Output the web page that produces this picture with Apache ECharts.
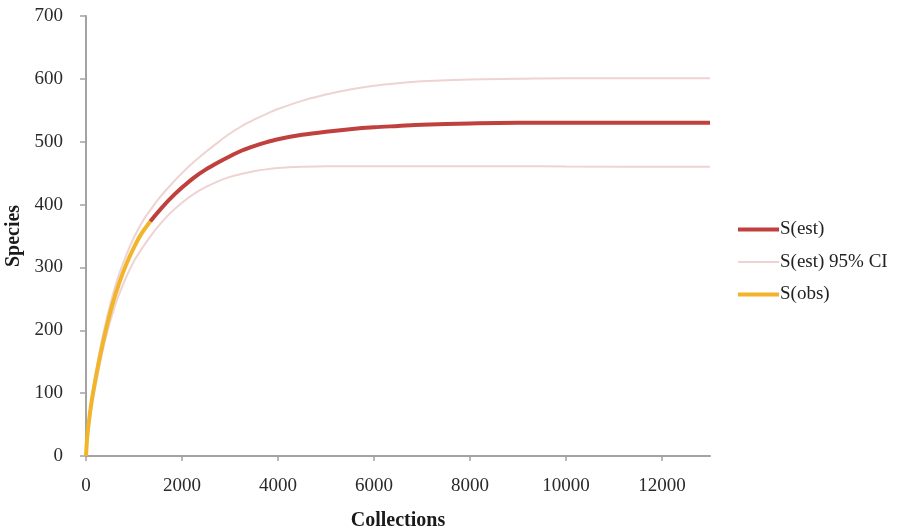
<!DOCTYPE html>
<html>
<head>
<meta charset="utf-8">
<script src="https://cdn.jsdelivr.net/npm/echarts@6/dist/echarts.min.js"></script>
<style>
html,body{margin:0;padding:0;background:#fff;}
#chart{width:900px;height:531px;}
</style>
</head>
<body>
<div id="chart"></div>
<script>
// Data
var estX = [1338, 1500, 1750, 2000, 2250, 2500, 2750, 3000, 3250, 3500, 3750, 4000, 4500, 5000, 5500, 6000, 6500, 7000, 8000, 9000, 10000, 13000];
var estY = [373, 388, 409, 427, 443, 456, 467, 477, 486, 493, 499, 504, 511, 516, 520, 523, 525, 527, 529, 530, 530, 530];

var ciX = [0, 100, 250, 400, 600, 800, 1000, 1200, 1338, 1500, 1750, 2000, 2250, 2500, 2750, 3000, 3250, 3500, 3750, 4000, 4500, 5000, 5500, 6000, 6500, 7000, 8000, 9000, 10000, 13000];
var ciUpper = [0, 82, 152, 208, 268, 312, 348, 376, 391, 408, 430, 450, 468, 484, 499, 513, 525, 535, 544, 552, 565, 575, 583, 589, 593, 596, 599, 600, 601, 601];
var ciLower = [0, 70, 132, 185, 238, 278, 310, 334, 349, 365, 386, 403, 417, 428, 437, 444, 449, 453, 456, 458, 460, 461, 461, 461, 461, 461, 461, 461, 460.5, 460];

var obsX = [0, 25, 50, 100, 150, 250, 400, 550, 700, 850, 1000, 1150, 1338];
var obsY = [0, 30, 48, 78, 102, 143, 196, 241, 277, 307, 332, 353, 373];

var xTicks = [0, 2000, 4000, 6000, 8000, 10000, 12000];
var seriesNames = ['S(est)', 'S(est) 95% CI', 'S(obs)'];

function pairs(xs, ys) {
  return xs.map(function (x, i) { return [x, ys[i]]; });
}

var FONT = '"Liberation Serif", "DejaVu Serif", serif';
var AXIS_COLOR = '#a3a3a3';
var colEst = '#c0403d';
var colCI = '#efd3d2';
var colObs = '#f2b42a';

function lineSeries(name, data, color, width, z) {
  return {
    name: name, type: 'line', data: data,
    smooth: 0.3, showSymbol: false, symbol: 'none', z: z,
    lineStyle: {color: color, width: width}, itemStyle: {color: color}
  };
}

var chart = echarts.init(document.getElementById('chart'), null, {renderer: 'canvas'});
chart.setOption({
  backgroundColor: '#ffffff',
  animation: false,
  grid: {left: 86, top: 16, width: 624, height: 440, containLabel: false, outerBoundsMode: 'none'},
  legend: {
    orient: 'vertical',
    left: 731,
    top: 215,
    itemWidth: 41,
    itemHeight: 14,
    itemGap: 13.5,
    data: seriesNames,
    itemStyle: {opacity: 0},
    lineStyle: {width: 'inherit'},
    textStyle: {fontFamily: FONT, fontSize: 19, color: '#222', padding: [0, 0, 0, -4]},
    selectedMode: false
  },
  xAxis: {
    type: 'value',
    min: 0,
    max: 13000,
    interval: 2000,
    name: 'Collections',
    nameLocation: 'middle',
    nameGap: 55,
    nameTextStyle: {fontFamily: FONT, fontSize: 20, fontWeight: 'bold', color: '#1a1a1a'},
    axisLine: {show: true, lineStyle: {color: AXIS_COLOR, width: 2}},
    axisTick: {show: true, length: 5, lineStyle: {color: AXIS_COLOR, width: 1.5}, customValues: xTicks},
    axisLabel: {fontFamily: FONT, fontSize: 19, color: '#2a2a2a', margin: 21, customValues: xTicks,
      formatter: function (v) { return String(v); }},
    splitLine: {show: false}
  },
  yAxis: {
    type: 'value',
    min: 0,
    max: 700,
    interval: 100,
    name: 'Species',
    nameLocation: 'middle',
    nameGap: 56,
    nameTextStyle: {fontFamily: FONT, fontSize: 20, fontWeight: 'bold', color: '#1a1a1a'},
    axisLine: {show: true, lineStyle: {color: AXIS_COLOR, width: 2}},
    axisTick: {show: true, length: 6, lineStyle: {color: AXIS_COLOR, width: 1.5}},
    axisLabel: {fontFamily: FONT, fontSize: 19, color: '#2a2a2a', margin: 23,
      formatter: function (v) { return String(v); }},
    splitLine: {show: false}
  },
  series: [
    lineSeries(seriesNames[0], pairs(estX, estY), colEst, 4, 3),
    lineSeries(seriesNames[1], pairs(ciX, ciUpper), colCI, 2, 2),
    lineSeries(seriesNames[1], pairs(ciX, ciLower), colCI, 2, 2),
    lineSeries(seriesNames[2], pairs(obsX, obsY), colObs, 4, 4)
  ]
});
</script>
</body>
</html>
